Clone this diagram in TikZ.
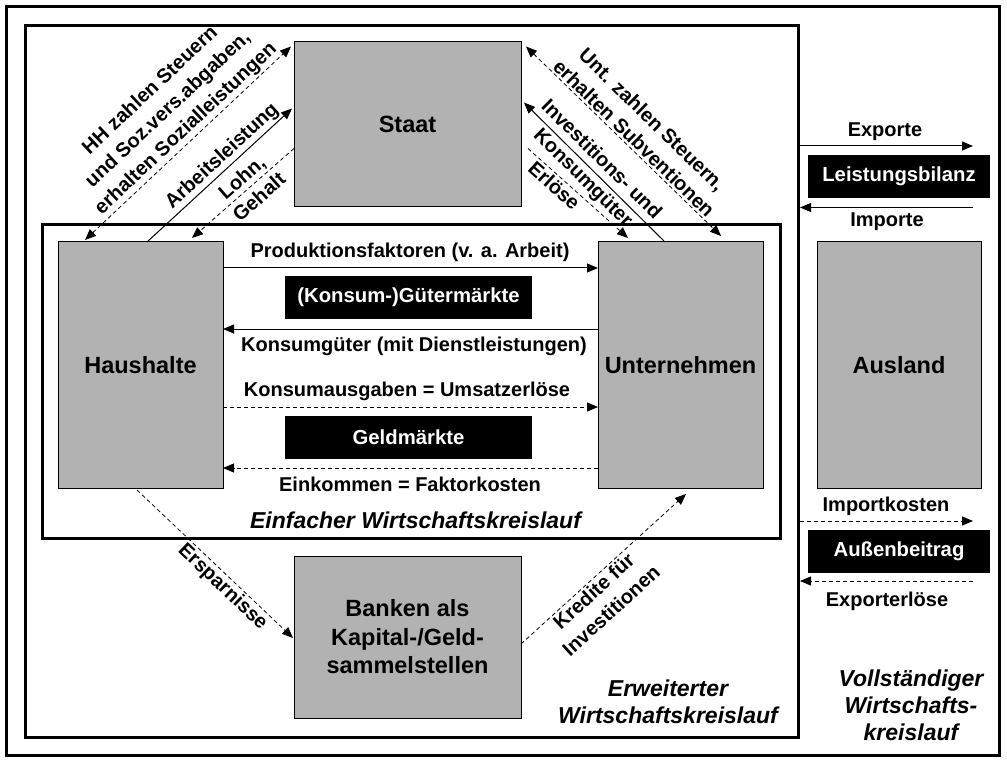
\documentclass[tikz,border=0pt]{standalone}
\usepackage{fontspec}
\setmainfont{Liberation Sans}
\usetikzlibrary{arrows.meta,calc}
\definecolor{boxgray}{RGB}{178,178,178}
\begin{document}
\begin{tikzpicture}[x=1pt,y=-1pt,
 box/.style={draw, line width=1pt, fill=boxgray, outer sep=0pt, inner sep=0pt, font=\fontsize{23.5}{28.5}\selectfont\bfseries, align=center},
 bbox/.style={fill=black, text=white, outer sep=0pt, inner sep=0pt, font=\fontsize{20.3}{24}\selectfont\bfseries},
 lbl/.style={font=\fontsize{20}{24}\selectfont\bfseries, inner sep=0pt, anchor=base},
 dlbl/.style={font=\fontsize{20}{26}\selectfont\bfseries, align=center, sloped, inner sep=2pt},
 ilbl/.style={font=\fontsize{23}{27}\selectfont\bfseries\itshape, align=center, inner sep=0pt},
 frame/.style={draw, line width=3pt, outer sep=0pt, inner sep=0pt},
 flow/.style={line width=1pt, -{Triangle[length=11pt,width=9pt]}},
 money/.style={flow, dash pattern=on 4pt off 3pt},
 both/.style={line width=0.8pt, dash pattern=on 4pt off 3pt, {Triangle[length=11pt,width=9pt]}-{Triangle[length=11pt,width=9pt]}},
]
\fill[white] (0,0) rectangle (1007,762);
\useasboundingbox (0,0) rectangle (1007,762);

% frames
\node[frame, minimum width=993pt, minimum height=749pt] (voll) at (503,381) {};
\node[frame, minimum width=773.5pt, minimum height=712pt] (erw) at (411.75,381.5) {};
\node[frame, minimum width=737.5pt, minimum height=314pt] (einf) at (411.25,381.5) {};

% boxes
\node[box, minimum width=227pt, minimum height=165pt] (st) at (407.5,124) {Staat};
\node[box, minimum width=165pt, minimum height=246pt] (hh) at (140.5,365) {Haushalte};
\node[box, minimum width=165pt, minimum height=246pt] (un) at (680.5,365) {Unternehmen};
\node[box, minimum width=164pt, minimum height=246pt] (aus) at (899,365) {Ausland};
\node[box, minimum width=227pt, minimum height=162pt] (bk) at (407.5,637) {Banken als\\Kapital-/Geld-\\sammelstellen};

% black market boxes
\node[bbox, minimum width=247pt, minimum height=43pt] (gm) at (408.5,297.5) {(Konsum-)Gütermärkte};
\node[bbox, minimum width=247pt, minimum height=43pt] (geld) at (408.5,437.5) {Geldmärkte};
\node[bbox, minimum width=182pt, minimum height=43pt] (lb) at (899,176.5) {Leistungsbilanz};
\node[bbox, minimum width=182pt, minimum height=43pt] (ab) at (899,551) {Außenbeitrag};

% simple circuit flows
\draw[flow] ($(hh.north east)+(0,26)$) -- ($(un.north west)+(0,26)$);
\draw[flow] ($(un.north west)+(0,87)$) -- ($(hh.north east)+(0,87)$);
\draw[money] ($(hh.north east)+(0,165)$) -- ($(un.north west)+(0,165)$);
\draw[money] ($(un.north west)+(0,226)$) -- ($(hh.north east)+(0,226)$);
\node[lbl] (l1) at (410,258) {Produktionsfaktoren (v. a. Arbeit)};
\node[lbl] (l2) at (414,351.5) {Konsumgüter (mit Dienstleistungen)};
\node[lbl] (l3) at (407,396.5) {Konsumausgaben = Umsatzerlöse};
\node[lbl] (l4) at (410,491.5) {Einkommen = Faktorkosten};

% foreign trade
\draw[flow] ($(erw.north east)+(1.5,120.5)$) -- ($(aus.north east)+(-8,-96)$);
\draw[flow] ($(aus.north east)+(-8,-34.5)$) -- ($(erw.north east)+(1.5,182)$);
\draw[money] ($(erw.north east)+(1.5,495.5)$) -- ($(aus.north east)+(-8,279)$);
\draw[money] ($(aus.north east)+(-8,339)$) -- ($(erw.north east)+(1.5,555.5)$);
\node[lbl] (ex) at (885,136.5) {Exporte};
\node[lbl] (im) at (887,227) {Importe};
\node[lbl] (ik) at (886,511) {Importkosten};
\node[lbl] (el) at (887,606) {Exporterlöse};

% state flows (households)
\draw[both] ($(hh.north west)+(27,-2)$) -- node[dlbl, above, pos=0.53] {HH zahlen Steuern\\und Soz.vers.abgaben,\\erhalten Sozialleistungen} ($(st.north west)+(-3,5)$);
\draw[flow] ($(hh.north west)+(89,0)$) -- node[dlbl, above, pos=0.575] {Arbeitsleistung} ($(st.north west)+(-2,67)$);
\draw[money, line width=0.8pt] ($(st.north west)+(0,107)$) -- node[dlbl, pos=0.43] {Lohn,\\Gehalt} ($(hh.north west)+(134,-4)$);

% state flows (firms)
\draw[both] ($(st.north east)+(5,5)$) -- node[dlbl, above, pos=0.52] {Unt. zahlen Steuern,\\erhalten Subventionen} ($(un.north west)+(123,-6)$);
\draw[flow] ($(un.north west)+(67,0)$) -- node[dlbl, pos=0.52] {Investitions- und\\Konsumgüter} ($(st.north east)+(3,61)$);
\draw[money, line width=0.8pt] ($(st.north east)+(7,107)$) -- node[dlbl, below, pos=0.33] {Erlöse} ($(un.north west)+(30,-4)$);

% banks
\draw[money, line width=0.8pt] ($(hh.south west)+(79,2)$) -- node[dlbl, below, pos=0.6] {Ersparnisse} ($(bk.north west)+(-1,82)$);
\draw[money, line width=0.8pt] ($(bk.north east)+(0,88)$) -- node[dlbl, below, pos=0.4] {Kredite für\\Investitionen} ($(un.south west)+(88,6)$);

% circuit titles
\node[ilbl] (t1) at (415.5,520) {Einfacher Wirtschaftskreislauf};
\node[ilbl] (t2) at (668,702) {Erweiterter\\Wirtschaftskreislauf};
\node[ilbl] (t3) at (911,705) {Vollständiger\\Wirtschafts-\\kreislauf};
\end{tikzpicture}
\end{document}
